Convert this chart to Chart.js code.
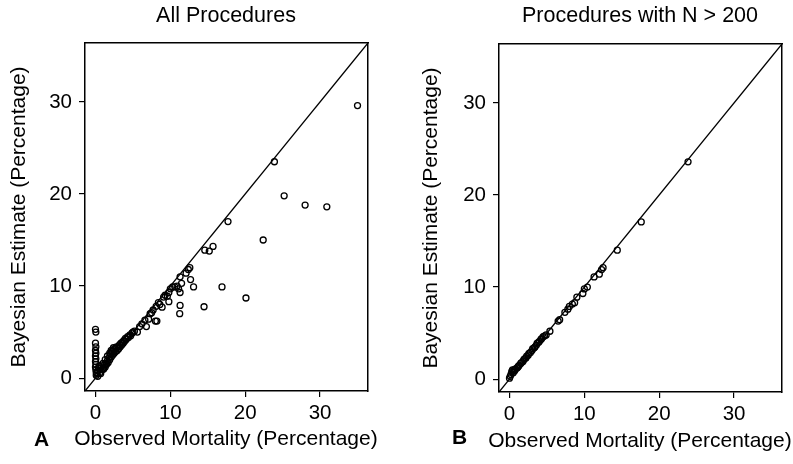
<!DOCTYPE html>
<html><head><meta charset="utf-8">
<script src="https://cdn.jsdelivr.net/npm/chart.js@4"></script>
<style>
html,body{margin:0;padding:0;background:#fff;}
#wrap{position:relative;width:793px;height:464px;overflow:hidden;background:#fff;}
canvas{position:absolute;top:0;}
#ca{left:0;} #cb{left:410px;}
.lab{position:absolute;font:bold 21px "Liberation Sans",Arial,sans-serif;color:#000;line-height:20px;}
.ttl{position:absolute;width:400px;text-align:center;font:21.5px "Liberation Sans",Arial,sans-serif;color:#000;line-height:24px;top:3px;}
.xt{position:absolute;width:400px;text-align:center;font:21px "Liberation Sans",Arial,sans-serif;color:#000;line-height:24px;white-space:nowrap;}
</style></head><body>
<div id="wrap">
<canvas id="ca" width="410" height="464"></canvas>
<canvas id="cb" width="383" height="464"></canvas>
<div class="ttl" id="ta" style="left:26px"></div>
<div class="ttl" id="tb" style="left:440px"></div>
<div class="xt" id="xa" style="left:26px;top:426px"></div>
<div class="xt" id="xb" style="left:440px;top:428px"></div>
<div class="lab" style="left:34px;top:429px">A</div>
<div class="lab" style="left:452px;top:427px">B</div>
</div>
<script>
const titleA = "All Procedures";
const titleB = "Procedures with N > 200";
const xAxisTitle = "Observed Mortality (Percentage)";
const yAxisTitle = "Bayesian Estimate (Percentage)";
const tickValues = [0, 10, 20, 30];
const axisMin = -1.4, axisMax = 36.4;
const identityLine = [-1.4, 36.4];

const allObserved = [
  0,0.05,0,0.05,0,0.05,0,0.05,0,0.05,0,0.05,0.1,0.1,
  0.2,0.3,0.4,0.5,0.3,0.6,1.0,0.8,0.7,
  0.9,1.0,1.1,1.2,1.3,1.4,1.5,1.6,1.7,1.8,1.9,2.0,2.1,2.2,2.3,2.4,2.5,2.6,2.7,2.8,2.9,3.0,3.1,3.2,3.3,3.4,3.5,3.6,3.7,3.8,3.9,4.0,4.1,4.3,4.4,4.6,4.7,4.9,5.0,5.2,5.6,
  1.6,1.9,2.1,2.4,1.3,
  5.9,6.2,6.6,6.8,7.1,7.3,7.5,7.7,8.0,8.2,8.1,8.4,8.6,8.9,9.1,9.3,9.6,9.8,9.8,10.0,10.3,10.6,10.9,11.1,11.3,11.3,11.25,11.3,11.5,12.1,12.4,12.6,12.7,13.1,
  14.5,14.6,15.2,15.7,16.9,17.7,20.1,22.4,23.9,25.2,28.0,30.9,35.0
];
const allEstimate = [
  5.3,5.0,3.8,3.4,3.0,2.7,2.4,2.1,1.8,1.5,1.2,0.9,0.6,0.3,
  0.5,0.8,1.1,1.3,0.2,0.6,1.6,1.4,0.5,
  0.9,1.1,1.0,1.4,1.2,1.6,1.5,1.9,1.7,2.2,2.0,2.6,2.3,2.9,2.5,3.1,2.7,3.2,2.9,3.4,3.0,3.4,3.2,3.6,3.4,3.8,3.6,3.9,3.8,4.1,4.0,4.3,4.2,4.5,4.4,4.7,4.6,4.9,5.0,5.1,5.0,
  2.4,2.7,3.0,3.3,2.0,
  5.6,5.9,6.3,5.6,6.4,7.0,7.1,7.4,6.2,6.2,7.8,8.2,8.0,7.7,8.8,9.0,8.9,8.3,9.3,9.7,9.9,9.9,10.0,9.7,9.3,7.9,7.0,11.0,10.3,11.4,11.8,12.0,10.7,9.9,
  7.75,13.9,13.8,14.3,9.9,17.0,8.7,15.0,23.5,19.8,18.8,18.6,29.6
];

const bigObserved = [
  0.0,0.1,0.2,0.3,0.4,0.5,0.6,0.7,0.8,1.0,1.1,1.2,1.3,1.5,1.6,1.8,1.9,2.0,2.2,2.3,2.5,2.6,2.8,3.0,3.1,3.3,3.4,3.6,3.7,3.9,4.0,4.2,4.3,4.5,4.7,4.9,
  5.4,6.5,6.7,7.4,7.8,8.0,8.4,8.7,9.0,9.8,10.0,10.4,11.3,12.0,12.3,12.5,14.4,17.6,23.85
];
const bigEstimate = [
  0.1,0.3,0.5,0.8,1.0,0.7,1.0,0.9,1.1,1.2,1.3,1.4,1.5,1.7,1.8,1.9,2.1,2.2,2.3,2.5,2.6,2.8,2.9,3.1,3.3,3.4,3.5,3.7,3.9,4.0,4.1,4.3,4.4,4.6,4.7,4.8,
  5.2,6.3,6.45,7.25,7.6,7.9,8.15,8.3,8.9,9.3,9.8,10.0,11.1,11.4,11.9,12.1,14.0,17.07,23.6
];

document.getElementById('ta').textContent = titleA;
document.getElementById('tb').textContent = titleB;
document.getElementById('xa').textContent = xAxisTitle;
document.getElementById('xb').textContent = xAxisTitle;

const FONT = '"Liberation Sans", Arial, Helvetica, sans-serif';

function makeChart(id, obs, est, L) {
  const pts = obs.map((v, i) => ({x: v, y: est[i]}));
  const line = identityLine.map(v => ({x: v, y: v}));
  const fixTicks = s => { s.ticks = tickValues.map(v => ({value: v})); };
  return new Chart(document.getElementById(id), {
    type: 'scatter',
    data: {
      datasets: [
        {data: line, showLine: true, borderColor: '#000', borderWidth: 1.4, pointRadius: 0, fill: false},
        {data: pts, pointStyle: 'circle', pointRadius: 3, pointBorderWidth: 1.3,
         pointBorderColor: '#000', pointBackgroundColor: 'rgba(0,0,0,0)', showLine: false}
      ]
    },
    options: {
      responsive: false, animation: false, devicePixelRatio: 1,
      layout: {padding: {left: 0, right: L.right, top: L.top, bottom: 0}},
      plugins: {legend: {display: false}, tooltip: {enabled: false}, title: {display: false}},
      scales: {
        x: {type: 'linear', position: 'bottom', min: axisMin, max: axisMax,
            afterBuildTicks: fixTicks,
            afterFit: s => { s.height = L.xH; },
            grid: {drawOnChartArea: false, drawTicks: true, tickLength: 6, color: '#000', lineWidth: 1.2},
            border: {display: true, color: '#000', width: 1.5},
            ticks: {color: '#000', padding: 4, font: {family: FONT, size: 20.5}, maxRotation: 0},
            title: {display: false}},
        y: {type: 'linear', position: 'left', min: axisMin, max: axisMax,
            afterBuildTicks: fixTicks,
            afterFit: s => { s.width = L.yW; },
            grid: {drawOnChartArea: false, drawTicks: true, tickLength: 6, color: '#000', lineWidth: 1.2},
            border: {display: true, color: '#000', width: 1.5},
            ticks: {color: '#000', padding: 7, font: {family: FONT, size: 20.5}},
            title: {display: true, text: yAxisTitle, color: '#000', font: {family: FONT, size: 21},
                    padding: {top: L.ytT, bottom: 0}}},
        x2: {type: 'linear', position: 'top', min: axisMin, max: axisMax,
             afterFit: s => { s.height = 0; },
             grid: {display: false, drawTicks: false}, ticks: {display: false},
             border: {display: true, color: '#000', width: 1.5}},
        y2: {type: 'linear', position: 'right', min: axisMin, max: axisMax,
             afterFit: s => { s.width = 0; },
             grid: {display: false, drawTicks: false}, ticks: {display: false},
             border: {display: true, color: '#000', width: 1.5}}
      }
    }
  });
}

makeChart('ca', allObserved, allEstimate, {right: 42, top: 43, xH: 73, yW: 85, ytT: 7});
makeChart('cb', bigObserved, bigEstimate, {right: 11, top: 44, xH: 72, yW: 89, ytT: 9});
</script>
</body></html>
